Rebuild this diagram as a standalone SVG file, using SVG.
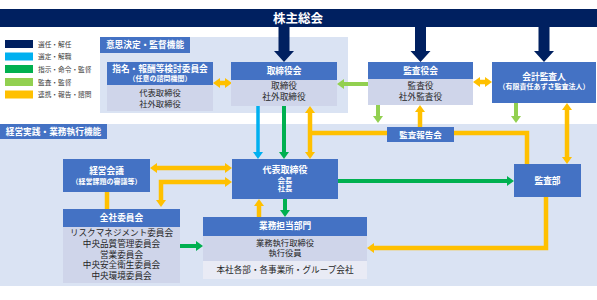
<svg xmlns="http://www.w3.org/2000/svg" width="597" height="300" viewBox="0 0 597 300">
<style>
text{font-family:"Noto Sans CJK JP","Noto Sans",sans-serif;text-anchor:middle}
.hd{fill:#4472C4}
.bd{fill:#CFD5EA}
.pn{fill:#DAE3F3}
.w{fill:#FFFFFF;font-weight:bold}
.k{fill:#262626}
.lg{fill:#404040;font-size:6.7px;text-anchor:start}
.or{stroke:#FFC000;stroke-width:4.5;fill:none}
.gr{stroke:#00B050;stroke-width:4;fill:none}
.lgr{stroke:#92D050;stroke-width:4;fill:none}
.cy{stroke:#00B0F0;stroke-width:3.5;fill:none}
.nv{fill:#002060}
</style>
<defs>
<marker id="aO" markerUnits="userSpaceOnUse" markerWidth="7" markerHeight="10" refX="0" refY="5" orient="auto-start-reverse"><path d="M0,0 L7,5 L0,10 z" fill="#FFC000"/></marker>
<marker id="aG" markerUnits="userSpaceOnUse" markerWidth="7" markerHeight="10" refX="0" refY="5" orient="auto-start-reverse"><path d="M0,0 L7,5 L0,10 z" fill="#00B050"/></marker>
<marker id="aL" markerUnits="userSpaceOnUse" markerWidth="7" markerHeight="10" refX="0" refY="5" orient="auto-start-reverse"><path d="M0,0 L7,5 L0,10 z" fill="#92D050"/></marker>
<marker id="aC" markerUnits="userSpaceOnUse" markerWidth="7" markerHeight="10" refX="0" refY="5" orient="auto-start-reverse"><path d="M0,0 L7,5 L0,10 z" fill="#00B0F0"/></marker>
</defs>
<rect width="597" height="300" fill="#FFFFFF"/>

<!-- panels -->
<g id="panel-upper">
<rect class="pn" x="100" y="37" width="248" height="76"/>
<rect class="hd" x="100" y="37" width="90" height="16"/>
<text class="w" x="145" y="48" font-size="8.7">意思決定・監督機能</text>
</g>
<g id="panel-lower">
<rect class="pn" x="0" y="124" width="597" height="162"/>
<rect class="hd" x="0" y="124" width="107" height="15"/>
<text class="w" x="53.5" y="134.8" font-size="8.7">経営実践・業務執行機能</text>
</g>

<!-- shareholders -->
<g id="shareholders">
<rect class="nv" x="0" y="9" width="597" height="18"/>
<text class="w" x="298" y="22.5" font-size="12.5">株主総会</text>
</g>

<!-- legend -->
<g id="legend">
<rect x="5" y="40" width="28" height="8" fill="#002060"/>
<rect x="5" y="52.5" width="28" height="8" fill="#00B0F0"/>
<rect x="5" y="65" width="28" height="8" fill="#00B050"/>
<rect x="5" y="78" width="28" height="8" fill="#92D050"/>
<rect x="5" y="90.5" width="28" height="8" fill="#FFC000"/>
<text class="lg" x="38" y="46.5">選任・解任</text>
<text class="lg" x="38" y="59">選定・解職</text>
<text class="lg" x="38" y="71.5">指示・命令・監督</text>
<text class="lg" x="38" y="84.5">監査・監督</text>
<text class="lg" x="38" y="97">連携・報告・諮問</text>
</g>

<!-- connectors -->
<g id="connectors">
<path class="nv" d="M278.5,27 V51 H274 L284,62 L294,51 H289.5 V27 z"/>
<path class="nv" d="M415,27 V51 H410.5 L420.5,62 L430.5,51 H426 V27 z"/>
<path class="nv" d="M538.5,27 V51 H534 L544,62 L554,51 H549.5 V27 z"/>

<line class="or" x1="220" y1="83" x2="225" y2="83" marker-start="url(#aO)" marker-end="url(#aO)"/>
<line class="lgr" x1="368" y1="84" x2="344" y2="84" marker-end="url(#aL)"/>
<line class="or" x1="480" y1="82" x2="485" y2="82" marker-start="url(#aO)" marker-end="url(#aO)"/>

<line class="cy" x1="258" y1="106" x2="258" y2="152" marker-end="url(#aC)"/>
<line class="gr" x1="284" y1="106" x2="284" y2="152" marker-end="url(#aG)"/>
<line class="or" x1="310" y1="113" x2="310" y2="152" marker-start="url(#aO)" marker-end="url(#aO)"/>
<path class="or" d="M310,133 H387"/>
<path class="or" d="M454,133 H527 V164"/>
<line class="or" x1="420" y1="127" x2="420" y2="112" marker-end="url(#aO)"/>
<line class="lgr" x1="378" y1="105" x2="378" y2="116" marker-end="url(#aL)"/>
<line class="lgr" x1="516" y1="103" x2="516" y2="116" marker-end="url(#aL)"/>
<line class="or" x1="567" y1="110" x2="567" y2="157" marker-start="url(#aO)" marker-end="url(#aO)"/>

<line class="gr" x1="338" y1="181" x2="507" y2="181" marker-end="url(#aG)"/>
<line class="or" x1="157" y1="168" x2="225" y2="168" marker-start="url(#aO)" marker-end="url(#aO)"/>
<path class="or" d="M225,182 H161 V200" marker-start="url(#aO)" marker-end="url(#aO)"/>
<line class="or" x1="107" y1="192" x2="107" y2="209"/>
<line class="gr" x1="180" y1="246" x2="196" y2="246" marker-end="url(#aG)"/>
<line class="or" x1="259" y1="217" x2="259" y2="206" marker-end="url(#aO)"/>
<line class="gr" x1="285" y1="199" x2="285" y2="210" marker-end="url(#aG)"/>
<path class="or" d="M546,197 V248 H374" marker-end="url(#aO)"/>
</g>

<!-- nodes -->
<g id="nomination-committee">
<rect class="hd" x="107" y="62" width="106" height="23"/>
<rect class="bd" x="107" y="85" width="106" height="26"/>
<text class="w" x="160" y="71.5" font-size="8.7">指名・報酬等検討委員会</text>
<text class="w" x="160" y="81" font-size="7">（任意の諮問機関）</text>
<text class="k" x="160" y="95.5" font-size="8.3">代表取締役</text>
<text class="k" x="160" y="106.5" font-size="8.3">社外取締役</text>
</g>

<g id="board">
<rect class="hd" x="231" y="62" width="106" height="18"/>
<rect class="bd" x="231" y="80" width="106" height="26"/>
<text class="w" x="284" y="74" font-size="8.7">取締役会</text>
<text class="k" x="284" y="88.5" font-size="8.7">取締役</text>
<text class="k" x="284" y="100" font-size="8.7">社外取締役</text>
</g>

<g id="audit-board">
<rect class="hd" x="368" y="62" width="105" height="17"/>
<rect class="bd" x="368" y="79" width="105" height="26"/>
<text class="w" x="420.5" y="74" font-size="8.7">監査役会</text>
<text class="k" x="420.5" y="88.5" font-size="8.7">監査役</text>
<text class="k" x="420.5" y="100" font-size="8.7">社外監査役</text>
</g>

<g id="accounting-auditor">
<rect class="hd" x="492" y="62" width="104" height="41"/>
<text class="w" x="544" y="79.5" font-size="8.7">会計監査人</text>
<text class="w" x="544" y="89" font-size="7">（有限責任あずさ監査法人）</text>
</g>

<g id="audit-report-meeting">
<rect class="hd" x="387" y="127" width="67" height="15"/>
<text class="w" x="420.5" y="137.8" font-size="8.5">監査報告会</text>
</g>

<g id="representative-director">
<rect class="hd" x="232" y="159" width="106" height="40"/>
<text class="w" x="285" y="172.5" font-size="9">代表取締役</text>
<text class="w" x="285" y="182.5" font-size="7.3">会長</text>
<text class="w" x="285" y="191" font-size="7.3">社長</text>
</g>

<g id="internal-audit">
<rect class="hd" x="514" y="164" width="67" height="33"/>
<text class="w" x="547.5" y="184" font-size="8.7">監査部</text>
</g>

<g id="management-meeting">
<rect class="hd" x="63" y="159" width="87" height="33"/>
<text class="w" x="106.5" y="174" font-size="8.7">経営会議</text>
<text class="w" x="106.5" y="184" font-size="7">（経営課題の審議等）</text>
</g>

<g id="company-committees">
<rect class="hd" x="63" y="209" width="117" height="18"/>
<rect class="bd" x="63" y="227" width="117" height="56"/>
<text class="w" x="121.5" y="220.5" font-size="8.7">全社委員会</text>
<text class="k" x="121.5" y="236.3" font-size="8.6">リスクマネジメント委員会</text>
<text class="k" x="121.5" y="247" font-size="8.6">中央品質管理委員会</text>
<text class="k" x="121.5" y="257.5" font-size="8.6">営業委員会</text>
<text class="k" x="121.5" y="268" font-size="8.6">中央安全衛生委員会</text>
<text class="k" x="121.5" y="278.5" font-size="8.6">中央環境委員会</text>
</g>

<g id="business-divisions">
<rect class="hd" x="203" y="217" width="164" height="19"/>
<rect class="bd" x="203" y="236" width="164" height="25"/>
<rect x="203" y="261" width="164" height="18" fill="#E9EBF5"/>
<text class="w" x="285" y="229" font-size="8.7">業務担当部門</text>
<text class="k" x="285" y="245.5" font-size="8.3">業務執行取締役</text>
<text class="k" x="285" y="256" font-size="8.3">執行役員</text>
<text class="k" x="285" y="273" font-size="8.6">本社各部・各事業所・グループ会社</text>
</g>
</svg>
